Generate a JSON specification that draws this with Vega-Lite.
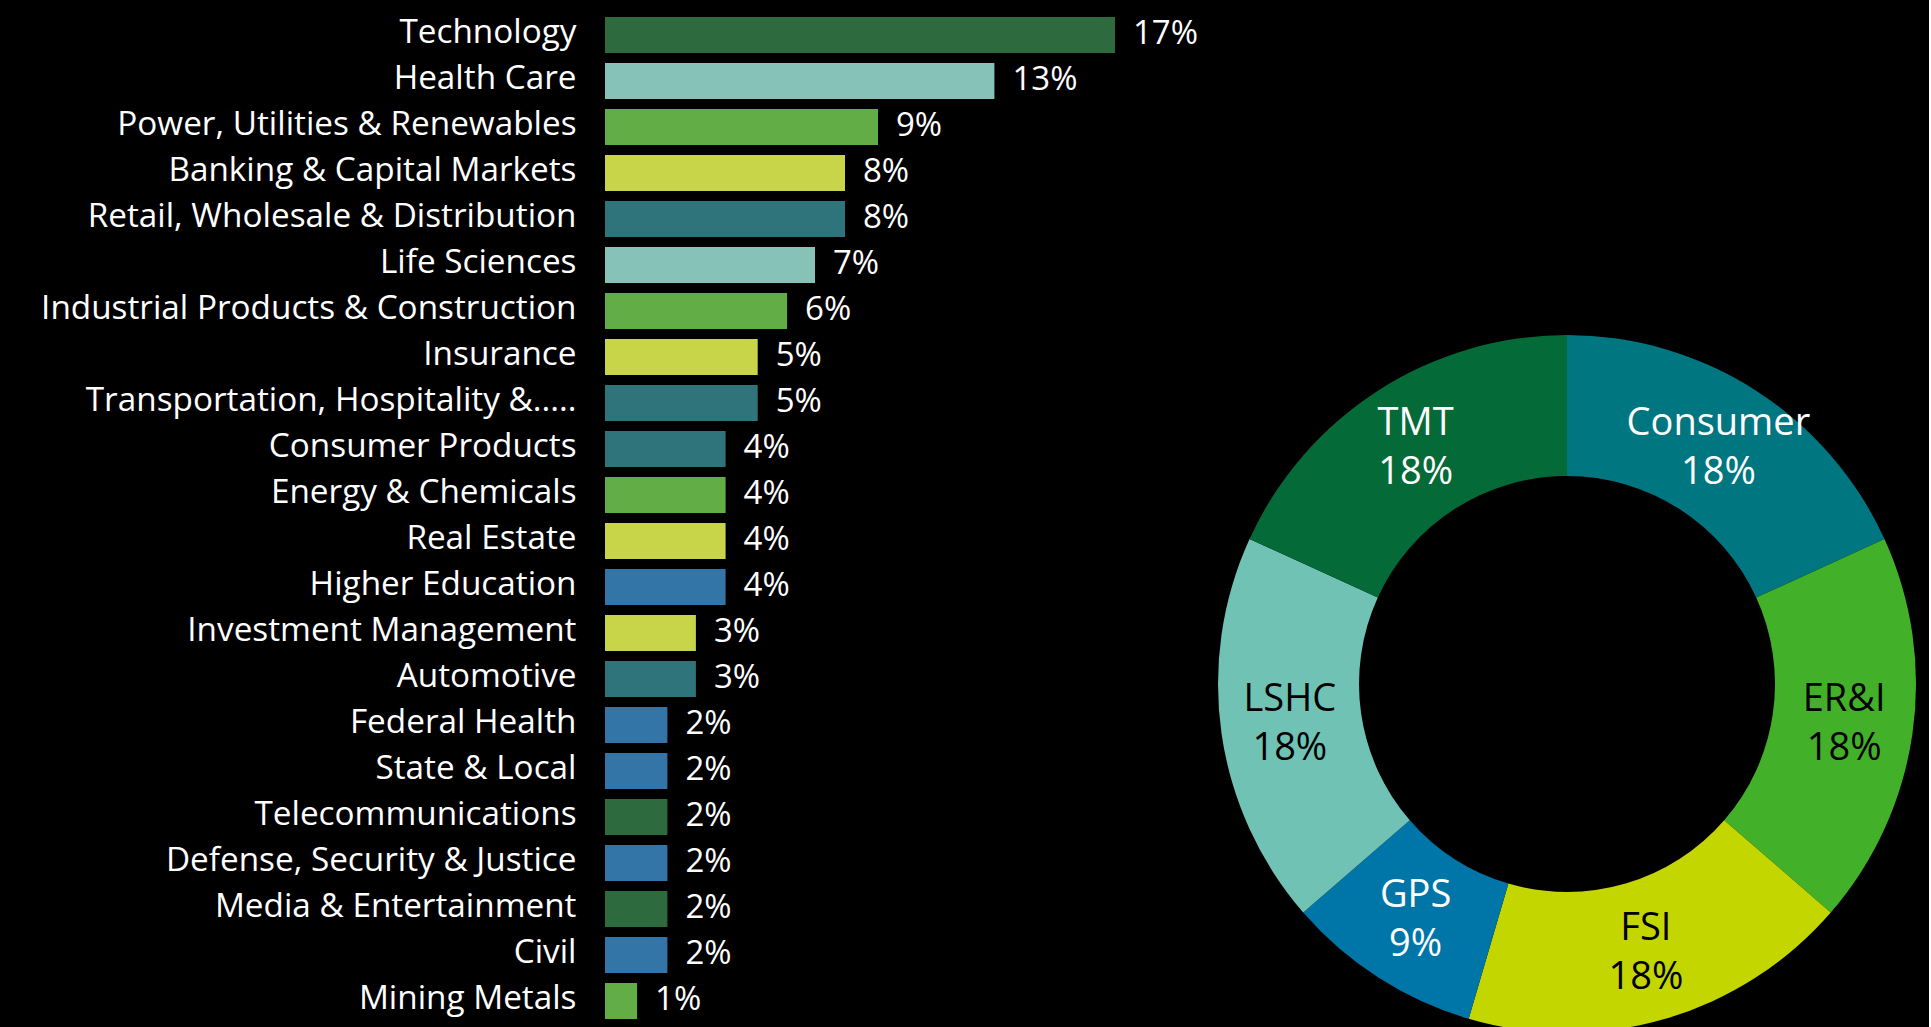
{
  "$schema": "https://vega.github.io/schema/vega-lite/v6.json",
  "background": "#000000",
  "padding": {"left": 0, "top": 12, "right": 0, "bottom": 0},
  "spacing": 0,
  "config": {
    "view": {"stroke": null},
    "font": "Open Sans",
    "text": {"font": "Open Sans"}
  },
  "resolve": {"scale": {"color": "independent"}},
  "hconcat": [
    {
      "width": 600,
      "height": 1012,
      "data": {
        "values": [
          {"sector": "Technology", "share": 0.17, "group": "TMT"},
          {"sector": "Health Care", "share": 0.1298, "group": "LSHC"},
          {"sector": "Power, Utilities & Renewables", "share": 0.091, "group": "ER&I"},
          {"sector": "Banking & Capital Markets", "share": 0.08, "group": "FSI"},
          {"sector": "Retail, Wholesale & Distribution", "share": 0.08, "group": "Consumer"},
          {"sector": "Life Sciences", "share": 0.07, "group": "LSHC"},
          {"sector": "Industrial Products & Construction", "share": 0.0607, "group": "ER&I"},
          {"sector": "Insurance", "share": 0.0509, "group": "FSI"},
          {"sector": "Transportation, Hospitality &.....", "share": 0.0509, "group": "Consumer"},
          {"sector": "Consumer Products", "share": 0.0402, "group": "Consumer"},
          {"sector": "Energy & Chemicals", "share": 0.0402, "group": "ER&I"},
          {"sector": "Real Estate", "share": 0.0402, "group": "FSI"},
          {"sector": "Higher Education", "share": 0.0402, "group": "GPS"},
          {"sector": "Investment Management", "share": 0.0303, "group": "FSI"},
          {"sector": "Automotive", "share": 0.0303, "group": "Consumer"},
          {"sector": "Federal Health", "share": 0.0208, "group": "GPS"},
          {"sector": "State & Local", "share": 0.0208, "group": "GPS"},
          {"sector": "Telecommunications", "share": 0.0208, "group": "TMT"},
          {"sector": "Defense, Security & Justice", "share": 0.0208, "group": "GPS"},
          {"sector": "Media & Entertainment", "share": 0.0208, "group": "TMT"},
          {"sector": "Civil", "share": 0.0208, "group": "GPS"},
          {"sector": "Mining Metals", "share": 0.0107, "group": "ER&I"}
        ]
      },
      "encoding": {
        "y": {
          "field": "sector",
          "type": "nominal",
          "sort": null,
          "scale": {"paddingInner": 0.22, "paddingOuter": 0.11},
          "axis": {
            "title": null,
            "domain": false,
            "ticks": false,
            "labelPadding": 29,
            "labelFontSize": 33.3,
            "labelFont": "Open Sans",
            "labelColor": "#ffffff",
            "labelLimit": 700,
            "labelOffset": -2,
            "minExtent": 605,
            "maxExtent": 605
          }
        },
        "x": {
          "field": "share",
          "type": "quantitative",
          "scale": {"domain": [0, 0.2], "nice": false},
          "axis": null
        }
      },
      "layer": [
        {
          "mark": {"type": "bar"},
          "encoding": {
            "color": {
              "field": "group",
              "type": "nominal",
              "scale": {
                "domain": ["TMT", "LSHC", "ER&I", "FSI", "Consumer", "GPS"],
                "range": ["#2D6B3E", "#86C2B7", "#62AD45", "#C8D548", "#2F747B", "#3275A6"]
              },
              "legend": null
            }
          }
        },
        {
          "mark": {"type": "text", "align": "left", "baseline": "middle", "dx": 18, "dy": -1, "fontSize": 33, "color": "#ffffff"},
          "encoding": {
            "text": {"field": "share", "type": "quantitative", "format": ".0%"}
          }
        }
      ]
    },
    {
      "width": 724,
      "height": 1344,
      "data": {
        "values": [
          {"segment": "Consumer", "share": 18, "label": "Consumer\n18%"},
          {"segment": "ER&I", "share": 18, "label": "ER&I\n18%"},
          {"segment": "FSI", "share": 18, "label": "FSI\n18%"},
          {"segment": "GPS", "share": 9, "label": "GPS\n9%"},
          {"segment": "LSHC", "share": 18, "label": "LSHC\n18%"},
          {"segment": "TMT", "share": 18, "label": "TMT\n18%"}
        ]
      },
      "encoding": {
        "theta": {"field": "share", "type": "quantitative", "stack": true},
        "order": {"field": "segment", "type": "nominal", "sort": "ascending"}
      },
      "layer": [
        {
          "mark": {"type": "arc", "outerRadius": 349, "innerRadius": 208},
          "encoding": {
            "color": {
              "field": "segment",
              "type": "nominal",
              "scale": {
                "domain": ["Consumer", "ER&I", "FSI", "GPS", "LSHC", "TMT"],
                "range": ["#007680", "#43B02A", "#C4D600", "#0076A8", "#6FC2B4", "#046A38"]
              },
              "legend": null
            }
          }
        },
        {
          "mark": {"type": "text", "radius": 280, "fontSize": 38, "lineBreak": "\n", "lineHeight": 49, "align": "center", "baseline": "middle", "dy": -24},
          "encoding": {
            "text": {"field": "label", "type": "nominal"},
            "color": {
              "condition": {"test": "indexof(['ER&I','FSI','LSHC'], datum.segment) >= 0", "value": "#000000"},
              "value": "#ffffff"
            }
          }
        }
      ]
    }
  ]
}
